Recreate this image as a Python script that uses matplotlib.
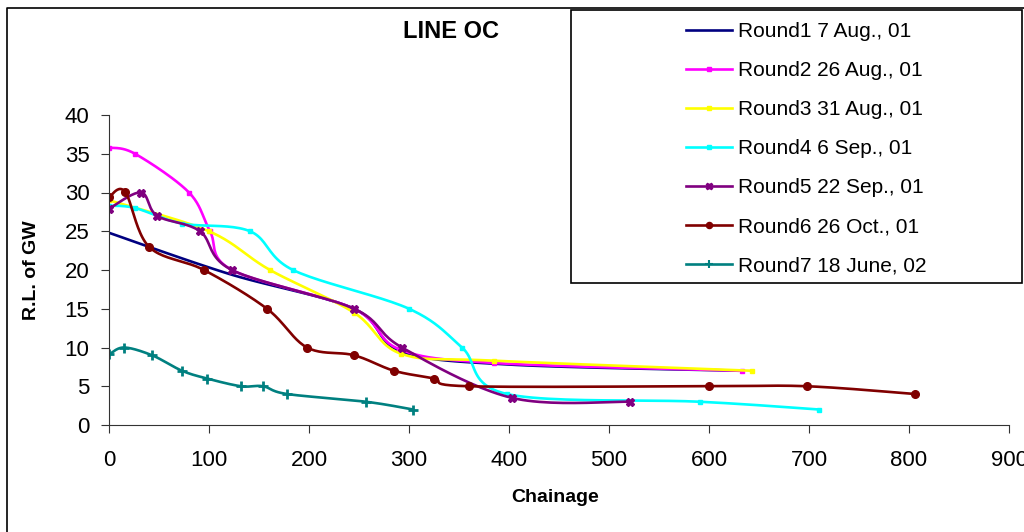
import numpy as np
import matplotlib
matplotlib.use("Agg")
import matplotlib.pyplot as plt
from matplotlib.lines import Line2D
from matplotlib.patches import Rectangle

plt.rcParams['font.family'] = ['Liberation Sans', 'DejaVu Sans']

labels = ['Round1 7 Aug., 01', 'Round2 26 Aug., 01', 'Round3 31 Aug., 01',
          'Round4 6 Sep., 01', 'Round5 22 Sep., 01', 'Round6 26 Oct., 01',
          'Round7 18 June, 02']

r1_x = [0, 120, 245, 292, 400, 630]
r1_y = [24.8, 19.5, 15, 9.5, 7.8, 7]

r2_x = [0, 26, 80, 101, 123, 245, 290, 385, 633]
r2_y = [35.8, 35, 30, 25, 20, 15, 9.8, 8, 7]

r3_x = [0, 100, 161, 245, 292, 385, 643]
r3_y = [29, 25, 20, 14.5, 9.2, 8.3, 7]

r4_x = [0, 26, 73, 141, 184, 300, 353, 398, 591, 710]
r4_y = [28.3, 28, 26, 25, 20, 15, 10, 4, 3, 2]

r5_x = [0, 32, 48, 91, 123, 245, 293, 403, 521]
r5_y = [27.9, 30, 27, 25, 20, 15, 10, 3.5, 3]

r6_x = [0, 16, 40, 95, 158, 198, 245, 285, 325, 360, 600, 698, 806]
r6_y = [29.4, 30.1, 23, 20, 15, 10, 9, 7, 6, 5, 5, 5, 4]

r7_x = [0, 15, 43, 73, 98, 132, 154, 178, 257, 304]
r7_y = [9.1, 10, 9, 7, 6, 5, 5, 4, 3, 2]

series = [(r1_x, r1_y), (r2_x, r2_y), (r3_x, r3_y), (r4_x, r4_y),
          (r5_x, r5_y), (r6_x, r6_y), (r7_x, r7_y)]
colors = ['#000080', '#FF00FF', '#FFFF00', '#00FFFF', '#800080', '#800000', '#008080']
markers = [None, 's', 's', 's', 'X', 'o', '+']
msizes = [0, 3, 3, 3, 6, 5.5, 7]


def smooth(xs, ys, n=24):
    # excel-like smoothed line (bezier through the points)
    p = np.column_stack([xs, ys]).astype(float)
    pts = np.vstack([p[0], p, p[-1]])
    out = []
    for i in range(1, len(pts) - 2):
        p0, p1, p2, p3 = pts[i - 1], pts[i], pts[i + 1], pts[i + 2]
        c1 = p1 + (p2 - p0) / 6
        c2 = p2 - (p3 - p1) / 6
        t = np.linspace(0, 1, n)[:, None]
        seg = (1 - t) ** 3 * p1 + 3 * (1 - t) ** 2 * t * c1 + 3 * (1 - t) * t ** 2 * c2 + t ** 3 * p2
        out.append(seg if i == 1 else seg[1:])
    s = np.vstack(out)
    return s[:, 0], s[:, 1]


fig = plt.figure(figsize=(10.24, 5.32), dpi=100)
ax = fig.add_axes([109 / 1024, 1 - 425 / 532, 900 / 1024, 310 / 532])

handles = []
for (xs, ys), c, m, ms, lab in zip(series, colors, markers, msizes, labels):
    sx, sy = smooth(xs, ys)
    ax.plot(sx, sy, color=c, lw=1.9, solid_capstyle='butt')
    if m:
        ax.plot(xs, ys, linestyle='none', marker=m, markersize=ms, color=c, mew=2 if m == '+' else 1)
    handles.append(Line2D([], [], color=c, lw=1.9, marker=m, markersize=ms * 0.8,
                          mew=1.5 if m == '+' else 1))

ax.set_xlim(0, 900)
ax.set_ylim(0, 40)
ax.set_xticks(range(0, 901, 100))
ax.set_yticks(range(0, 41, 5))
for s in ['top', 'right']:
    ax.spines[s].set_visible(False)
for s in ['left', 'bottom']:
    ax.spines[s].set_color('#333333')
ax.tick_params(axis='both', direction='out', length=6, color='#333333', labelsize=16)
ax.tick_params(axis='y', pad=8)
ax.tick_params(axis='x', pad=12)

fig.text(451 / 1024, 1 - 32 / 532, 'LINE OC', fontsize=17, fontweight='bold',
         ha='center', va='center')
fig.text(555 / 1024, 1 - 498 / 532, 'Chainage', fontsize=14, fontweight='bold',
         ha='center', va='center')
fig.text(32 / 1024, 1 - 270 / 532, 'R.L. of GW', fontsize=14, fontweight='bold',
         ha='center', va='center', rotation=90)

# legend box
fig.patches.append(Rectangle((571 / 1024, 1 - 283 / 532), 451 / 1024, 273 / 532,
                             transform=fig.transFigure, fill=True, facecolor='white',
                             edgecolor='black', lw=1.2, zorder=5))
leg = fig.legend(handles, labels, loc='upper left', bbox_to_anchor=(676 / 1024, 1 - 12 / 532),
                 frameon=False, fontsize=15, handlelength=2.2, handletextpad=0.3,
                 labelspacing=0.96, borderpad=0)
leg.set_zorder(6)

# chart area border
fig.add_artist(Line2D([7 / 1024, 7 / 1024, 1.0], [0, 1 - 8 / 532, 1 - 8 / 532],
                      transform=fig.transFigure, color='black', lw=1.2))

fig.savefig('out.png', dpi=100)
